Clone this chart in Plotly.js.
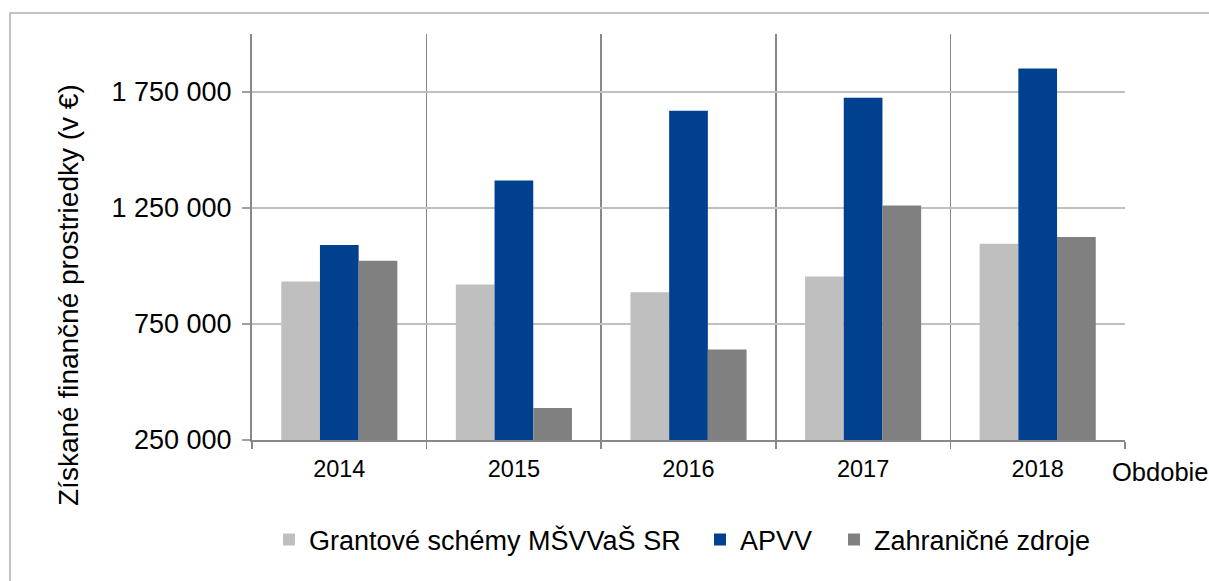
<!DOCTYPE html>
<html>
<head>
<meta charset="utf-8">
<script src="https://cdn.plot.ly/plotly-3.0.1.min.js"></script>
<style>html,body{margin:0;padding:0;background:#fff;}#chart{width:1209px;height:581px;}</style>
</head>
<body>
<div id="chart"></div>
<script>
const years = ['2014', '2015', '2016', '2017', '2018'];
const seriesNames = ['Grantové schémy MŠVVaŠ SR', 'APVV', 'Zahraničné zdroje'];
const grantove = [933000, 920000, 887000, 955000, 1096000];
const apvv = [1090000, 1368000, 1669000, 1725000, 1851000];
const zahranicne = [1023000, 388000, 640000, 1261000, 1125000];
const colors = ['#BFBFBF', '#00408F', '#808080'];
const yTitle = 'Získané finančné prostriedky (v €)';
const xTitle = 'Obdobie';

const FONT = 'Liberation Sans, Arial, sans-serif';
const L = 252, R = 84, T = 34, B = 141, W = 1209, H = 581;
const pw = W - L - R, ph = H - T - B;
const px = v => (v - L) / pw;
const py = v => (H - B - v) / ph;

const legendIds = ['legend', 'legend2', 'legend3'];
const legendTextX = [309, 740, 874];

const data = [grantove, apvv, zahranicne].map((vals, i) => ({
  type: 'bar', x: years, y: vals, name: seriesNames[i],
  legend: legendIds[i],
  marker: {color: colors[i], line: {width: 0}},
  hoverinfo: 'none'
}));

const layout = {
  width: W, height: H,
  margin: {l: L, r: R, t: T, b: B, pad: 0},
  paper_bgcolor: '#fff', plot_bgcolor: '#fff',
  separators: '. ',
  font: {family: FONT, color: '#000'},
  barmode: 'group', bargap: 0.335, bargroupgap: 0,
  showlegend: true,
  xaxis: {
    type: 'category', tickson: 'boundaries', showgrid: true, gridcolor: '#888888', gridwidth: 1.5,
    showline: true, linecolor: '#888888', linewidth: 2,
    ticks: 'outside', ticklen: 7, tickcolor: '#888888', tickwidth: 1.5,
    ticklabelstandoff: 7,
    tickfont: {family: FONT, size: 23.5, color: '#000'}, fixedrange: true
  },
  yaxis: {
    range: [250000, 2000000], tick0: 250000, dtick: 500000, tickformat: ',d',
    showgrid: true, gridcolor: '#C0C0C0', gridwidth: 1.5, zeroline: false,
    showline: true, linecolor: '#888888', linewidth: 2,
    ticks: 'outside', ticklen: 8, tickcolor: '#A0A0A0', tickwidth: 1.5,
    ticklabelstandoff: 5,
    tickfont: {family: FONT, size: 27, color: '#000'}, fixedrange: true
  },
  annotations: [
    {text: yTitle, xref: 'paper', yref: 'paper', x: px(68), y: py(295), xanchor: 'center', yanchor: 'middle',
     textangle: -90, showarrow: false, font: {family: FONT, size: 28, color: '#000'}},
    {text: xTitle, xref: 'paper', yref: 'paper', x: px(1110), y: py(472), xanchor: 'left', yanchor: 'middle',
     showarrow: false, font: {family: FONT, size: 25.5, color: '#000'}}
  ],
  shapes: [
    {type: 'rect', xref: 'paper', yref: 'paper', x0: px(10), x1: px(1230), y0: py(600), y1: py(13),
     line: {color: '#B0B0B0', width: 1.5}, layer: 'below'}
  ]
};

legendIds.forEach((id, i) => {
  layout[id] = {orientation: 'h', x: px(legendTextX[i] - 40), xanchor: 'left', y: py(540), yanchor: 'middle',
                bgcolor: 'rgba(0,0,0,0)', font: {family: FONT, size: 27, color: '#000'}};
});

Plotly.newPlot('chart', data, layout, {staticPlot: true, displayModeBar: false});
</script>
</body>
</html>
